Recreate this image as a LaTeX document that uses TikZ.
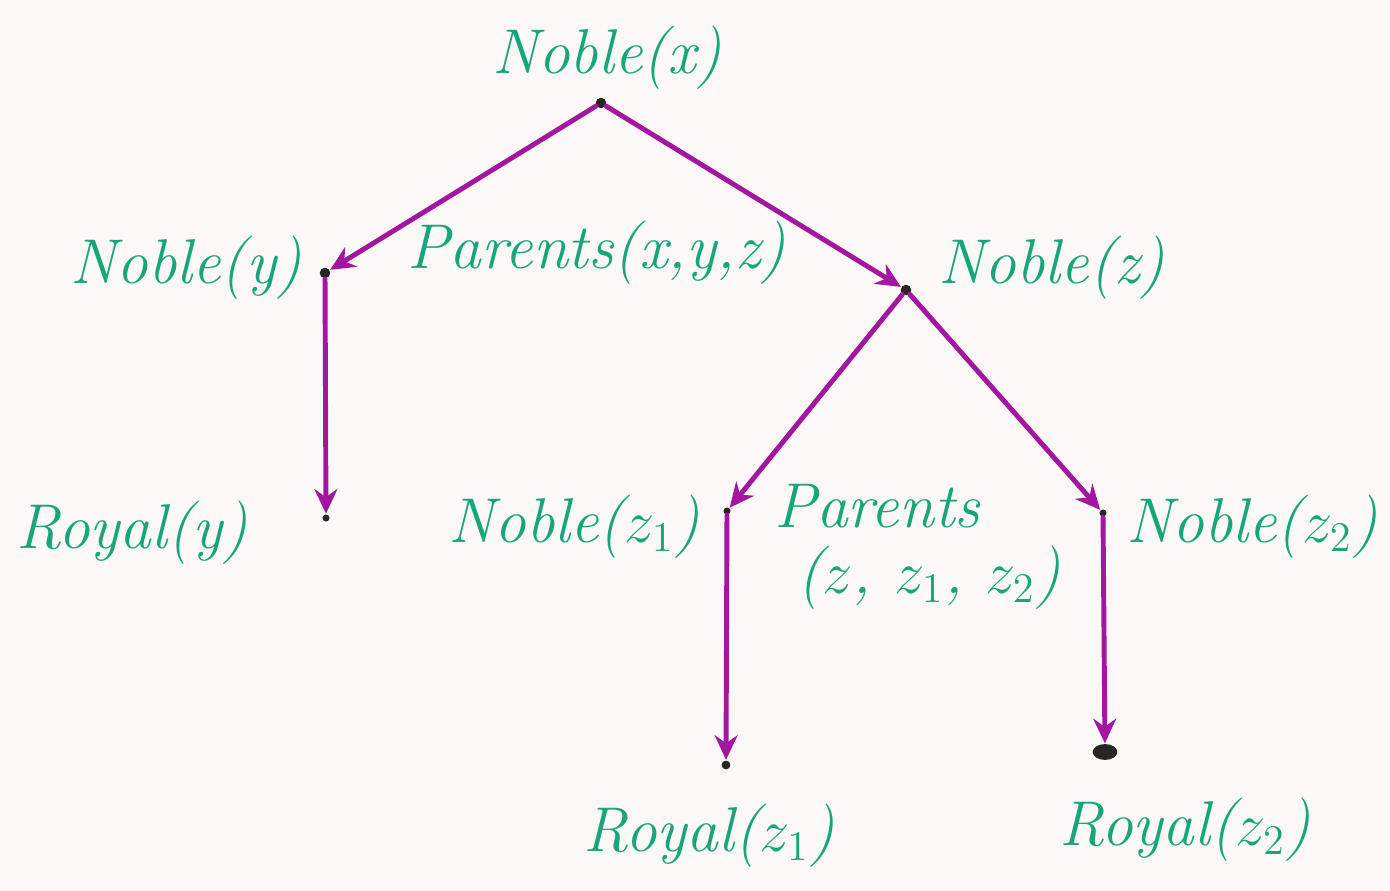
\documentclass[tikz,border=0pt]{standalone}
\usetikzlibrary{arrows.meta,shapes.geometric}
\definecolor{ink}{HTML}{17A67B}
\definecolor{pen}{HTML}{A3169F}
\definecolor{paper}{HTML}{FCF8F8}
\tikzset{
  dot/.style={circle, fill=black!85, inner sep=0pt, minimum size=3pt},
  bigdot/.style={ellipse, fill=black!85, inner sep=0pt, minimum width=7pt, minimum height=4.5pt},
  lbl/.style={text=ink, font=\fontsize{18}{22}\selectfont\itshape, inner sep=0pt},
  link/.style={draw=pen, line width=1.4pt, line cap=round, -{Stealth[length=7pt,width=6.5pt]}}
}
\begin{document}
\begin{tikzpicture}[x=0.01cm, y=-0.01cm]
  % paper
  \fill[paper] (0,0) rectangle (1390,891);
  \useasboundingbox (0,0) rectangle (1390,891);

  % tree points
  \node[dot] (x)  at (601,103) {};
  \node[dot] (y)  at (325,273) {};
  \node[dot] (z)  at (906,290) {};
  \node[dot, minimum size=2pt] (ry) at (326,518) {};
  \node[dot, minimum size=2pt] (z1) at (727,511) {};
  \node[dot, minimum size=2pt] (z2) at (1103,513) {};
  \node[dot, minimum size=2.5pt] (rz1) at (726,765) {};
  \node[bigdot] (rz2) at (1105,752) {};

  % labels
  \node[lbl] (lx)   at (607,58)  {Noble(x)};
  \node[lbl] (ly)   at (186,268) {Noble(y)};
  \node[lbl] (pxyz) at (597,253) {Parents(x,y,z)};
  \node[lbl] (lz)   at (1052,268) {Noble(z)};
  \node[lbl] (lry)  at (132,533) {Royal(y)};
  \node[lbl] (lz1)  at (574,527) {Noble($z_1$)};
  \node[lbl] (pz)   at (877,506) {Parents};
  \node[lbl] (pzargs) at (929,578) {($z$, $z_1$, $z_2$)};
  \node[lbl] (lz2)  at (1252,527) {Noble($z_2$)};
  \node[lbl] (lrz1) at (709,836) {Royal($z_1$)};
  \node[lbl] (lrz2) at (1185,830) {Royal($z_2$)};

  % edges
  \draw[link] (x) -- (y);
  \draw[link] (x) -- (z);
  \draw[link] (y) -- (ry);
  \draw[link] (z) -- (z1);
  \draw[link] (z) -- (z2);
  \draw[link] (z1) -- (rz1);
  \draw[link] (z2) -- (rz2);
\end{tikzpicture}
\end{document}
